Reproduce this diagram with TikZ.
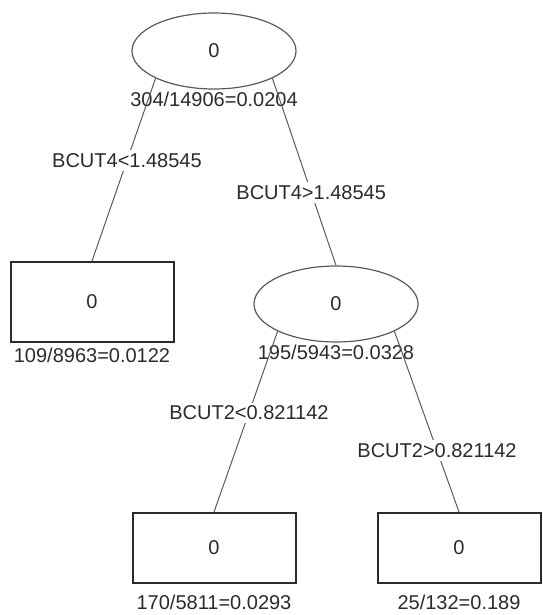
\documentclass[tikz,border=0pt]{standalone}
\usepackage{fontspec}
\setmainfont{Liberation Sans}
\usepackage{xcolor}
\usetikzlibrary{shapes.geometric}
\definecolor{InkGray}{HTML}{2B2B2B}
\definecolor{EdgeGray}{HTML}{5A5A5A}
\tikzset{
  split/.style={ellipse, draw=EdgeGray, line width=0.6pt, minimum width=82pt, minimum height=38pt, inner sep=0pt},
  leaf/.style={rectangle, draw=InkGray, line width=1pt, minimum width=81.5pt, minimum height=40pt, inner sep=0pt},
  count/.style={label distance=1pt, inner sep=0pt},
  edge/.style={draw=EdgeGray, line width=0.5pt},
  rule/.style={fill=white, inner sep=1.5pt}
}

\begin{document}
\begin{tikzpicture}[x=0.5pt, y=-0.5pt, every node/.style={font=\normalsize, text=InkGray}]
\useasboundingbox (0,0) rectangle (542,615);
\node[split, label={[count]below:304/14906=0.0204}] (root) at (214,51) {0};
\node[leaf, label={[count, label distance=2.5pt]below:109/8963=0.0122}] (lowfour) at (92,302) {0};
\node[split, label={[count]below:195/5943=0.0328}] (highfour) at (336,304) {0};
\node[leaf, minimum height=35pt, label={[count, label distance=5.5pt]below:170/5811=0.0293}] (lowtwo) at (214,548) {0};
\node[leaf, minimum height=35pt, label={[count, label distance=5.5pt]below:25/132=0.189}] (hightwo) at (459,548) {0};

\draw[edge] (root.south west) -- node[rule, pos=0.45] {BCUT4<1.48545} (lowfour.north);
\draw[edge] (root.south east) -- node[rule, pos=0.61] {BCUT4>1.48545} (highfour.north);
\draw[edge] (highfour.south west) -- node[rule, pos=0.45] {BCUT2<0.821142} (lowtwo.north);
\draw[edge] (highfour.south east) -- node[rule, pos=0.66] {BCUT2>0.821142} (hightwo.north);
\end{tikzpicture}
\end{document}
